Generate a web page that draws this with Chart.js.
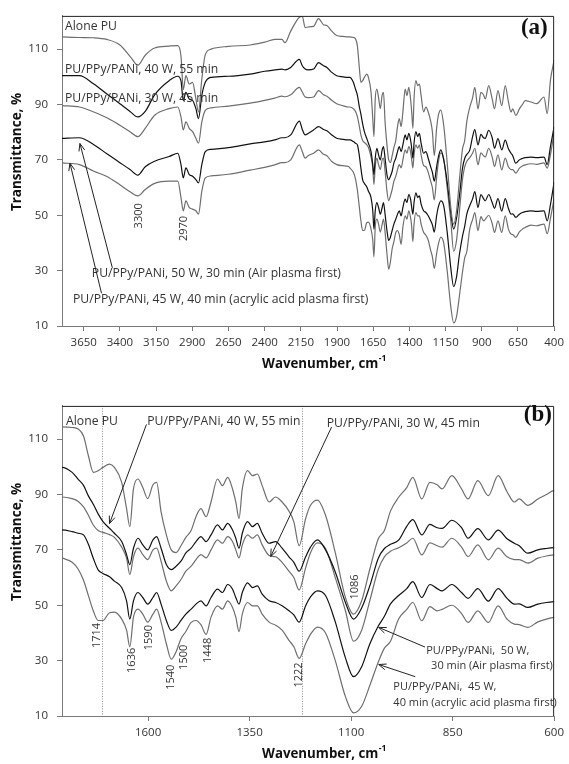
<!DOCTYPE html>
<html>
<head>
<meta charset="utf-8">
<script src="https://cdn.jsdelivr.net/npm/chart.js@4.4.1/dist/chart.umd.min.js"></script>
<style>
  html, body { margin: 0; padding: 0; background: #fff; overflow: hidden; }
  #wrap { position: relative; width: 569px; height: 764px; }
  canvas { position: absolute; left: 0; }
  #chartA { top: 0; }
  #chartB { top: 390px; }
</style>
</head>
<body>
<div id="wrap">
  <canvas id="chartA" width="569" height="382"></canvas>
  <canvas id="chartB" width="569" height="374"></canvas>
</div>
<script>
// wavenumber grid (cm-1), shared by all five spectra
const wavenumbers = [
  3800, 3680, 3580, 3490, 3400, 3330, 3276, 3225, 3160, 3060,
  3000, 2978, 2962, 2944, 2921, 2898, 2875, 2857, 2834, 2810,
  2770, 2650, 2500, 2400, 2330, 2280, 2260, 2220, 2160, 2140,
  2120, 2100, 2062, 2028, 1993, 1970, 1936, 1902, 1860, 1820,
  1812, 1787, 1772, 1759, 1747, 1735, 1723, 1711, 1695, 1683,
  1665, 1653, 1645, 1636, 1625, 1613, 1601, 1588, 1579, 1568,
  1555, 1543, 1531, 1519, 1507, 1494, 1482, 1470, 1457, 1445,
  1429, 1417, 1404, 1392, 1384, 1376, 1368, 1355, 1343, 1331,
  1319, 1302, 1286, 1270, 1253, 1241, 1228, 1212, 1200, 1183,
  1163, 1139, 1114, 1094, 1074, 1054, 1033, 1018, 1003, 983,
  963, 948, 926, 906, 888, 876, 852, 828, 812, 788,
  762, 738, 716, 698, 686, 665, 640, 619, 600,
  560, 520, 470, 448, 425, 400
];

const alonePU = [
  114.4, 114.2, 114.1, 113.5, 111.5, 107.4, 104.2, 107.8, 110.4, 111.1,
  111.3, 107.5, 95.4, 100.4, 97.4, 98, 92, 87.3, 99.2, 108,
  110, 111, 111.5, 112.5, 113.5, 113.5, 112.3, 116.5, 121.5, 121.8,
  117.8, 118, 118.2, 121, 118.8, 118.5, 116.5, 114.9, 114.6, 114.4,
  114.4, 114.2, 113.7, 111.1, 104, 98, 98.6, 99.8, 101, 99.8,
  94.4, 84.9, 78.4, 92, 95.6, 92.5, 88.5, 93.5, 94.4, 83.7,
  75.4, 70, 69, 71.5, 74.5, 77, 82, 84.9, 82, 87.3,
  95.6, 93.2, 96.2, 92, 87.3, 81.4, 92, 98.6, 96.8, 97.4,
  93.2, 87.3, 89.1, 87.3, 84, 80.1, 71.5, 81.3, 86.1, 88,
  82.5, 69, 52.8, 46.8, 51.6, 63, 74, 77, 84, 89,
  92.5, 96.2, 88.4, 94.4, 93.5, 92, 96.8, 92, 88.4, 95,
  89.6, 96.8, 91, 87.3, 88.4, 86.1, 88.4, 90, 91.4,
  90.9, 90.3, 92.7, 86.7, 99, 106
];

const pu40W55 = [
  100.4, 100.4, 97.4, 93.8, 90.3, 87.5, 85.5, 87.5, 93.5, 98.6,
  100.2, 98.5, 91.5, 94.4, 92, 91.5, 88.5, 84.9, 93.3, 98,
  99.8, 100.2, 101, 102, 102.5, 102.8, 102.5, 103.4, 106.3, 104,
  102.8, 102.5, 102.8, 105.1, 104, 103.4, 101.6, 100.4, 100, 99.8,
  99.8, 98, 95.5, 93.3, 89.5, 86.5, 83, 80.2, 77.8, 76,
  73, 68.3, 64.7, 70.6, 74.2, 71.8, 70, 73.6, 74.8, 70.6,
  64.7, 62.9, 64.1, 65.9, 68.9, 70.6, 73, 74.8, 73, 75.4,
  79, 77.2, 79.6, 77.2, 74.2, 70.6, 76, 80.2, 78.4, 79.6,
  76, 72.4, 73, 70.6, 67.5, 65.5, 62.3, 67.5, 71, 73.6,
  70, 62, 51, 45, 49, 57, 67, 70.5, 72, 73.5,
  78.5, 80.9, 75.4, 79.2, 78, 77.8, 80.7, 78, 74.2, 77.7,
  73.6, 77.1, 74, 72.4, 71.5, 68.8, 70, 70.5, 70.8,
  71, 70.8, 71, 68.3, 75, 82
];

const pu30W45 = [
  89.6, 89.1, 87.3, 85.2, 82.5, 80.2, 78.4, 81.4, 86.1, 88.5,
  89.1, 85.5, 80.8, 83.7, 81.4, 80.2, 77.8, 76, 83.7, 87.9,
  88.8, 89.4, 90.5, 91.5, 92.3, 93, 92.8, 93.5, 96.2, 94.5,
  92.7, 92.5, 92.7, 95, 93.5, 93, 91.5, 90.3, 89.6, 89.1,
  89.1, 88.5, 87.5, 85.5, 82.5, 79, 77, 76.3, 75.5, 74.5,
  71, 67, 61.1, 67.5, 70.6, 68.3, 66.5, 70, 70.6, 65.9,
  58.7, 55.2, 57, 59.3, 62.3, 64.1, 66.5, 68.3, 67.1, 70,
  73.6, 72.4, 74.8, 73, 70, 67.1, 71.8, 75.4, 74.2, 75.4,
  71.8, 68, 67.5, 65.5, 62.3, 60, 55.5, 63.5, 69, 72.5,
  70.5, 60, 48, 37, 41, 51.6, 63, 67.5, 69.5, 70.8,
  72.5, 74.2, 68.2, 72.5, 71.5, 71, 74.2, 71, 67.6, 71.8,
  66.4, 70.6, 67.5, 66.5, 66.5, 65.2, 67, 67.8, 68.2,
  68.6, 68.4, 68.9, 67, 72, 80
];

const pu50W30 = [
  77.8, 78, 75.5, 72.2, 69, 66.5, 64.5, 67.5, 69.5, 71.2,
  72.4, 68.3, 63.5, 67.1, 64.7, 64.1, 62.9, 61.7, 68.3, 73,
  73.8, 74.4, 75.8, 76.5, 77.2, 78, 78, 79, 84, 81,
  79, 79.5, 80.8, 82, 81, 80.5, 79, 77.8, 77.4, 77.2,
  77.2, 76.6, 76, 75.4, 72, 67, 62.8, 61.5, 60.3, 58.7,
  56.4, 51.6, 45, 51.6, 54.6, 52.8, 50.4, 52.8, 54.6, 50.4,
  44.5, 40.9, 42.1, 44.5, 46.8, 48.6, 50.4, 51.6, 49.8, 52.8,
  55.8, 54.6, 57.5, 55.8, 52.8, 50.4, 54.6, 58.1, 56.4, 57,
  54, 51.6, 51, 49.8, 48, 46.5, 43.9, 49.8, 53, 55.2,
  53.5, 44, 31, 24.2, 27.8, 36, 42.5, 46, 50.5, 53.5,
  56, 58.5, 52.8, 57.5, 56, 55.2, 57.5, 54.6, 52.5, 56,
  51.5, 56, 52.5, 50.4, 50.5, 49.2, 50.4, 51, 51.3,
  51.6, 51.4, 51.6, 48, 54, 62
];

const pu45W40 = [
  68.9, 68.3, 65.9, 64, 61, 58.5, 57, 59.3, 61.5, 62.3,
  62.3, 56.4, 51.6, 55.2, 52.8, 52.2, 51.6, 50.4, 58.7, 63.5,
  64.2, 64.8, 66.3, 67.3, 68.2, 69, 69, 70, 75.4, 73,
  70.6, 71.5, 72.4, 73.6, 72, 71.5, 69.4, 68.3, 67.9, 67.6,
  67.1, 65.5, 63, 59, 53.5, 48, 44.5, 44.5, 47.3, 47.5,
  45, 41, 35, 45.7, 48.6, 46.8, 43.9, 46.8, 48.6, 43.9,
  36.1, 30.5, 33.2, 37.9, 40.5, 43.8, 44.5, 43, 39.5, 45.7,
  49.8, 48.6, 51.6, 49.2, 45.7, 40.5, 46.8, 51, 49.8, 49.8,
  46.8, 43.9, 42.8, 41, 37.3, 35, 30.8, 36.1, 39.5, 42.1,
  40, 30, 17, 11.1, 13.5, 21, 29.5, 34.5, 37, 45,
  48.5, 51, 44.4, 49.5, 48, 48.5, 50, 47, 43.8, 48,
  43.8, 49.8, 45, 43.2, 43, 42, 44, 45, 45.6,
  46.4, 46.2, 46.8, 43.3, 49, 56
];

const yTicks = [10, 30, 50, 70, 90, 110];
const xTicksA = [3650, 3400, 3150, 2900, 2650, 2400, 2150, 1900, 1650, 1400, 1150, 900, 650, 400];
const xTicksB = [1600, 1350, 1100, 850, 600];
const peakLines = [1714, 1222];

const GREY = '#6e6e6e';
const BLACK = '#111111';
const TEXT = '#333333';
const FONT = "'Open Sans', sans-serif";

const seriesList = [
  { label: 'Alone PU', values: alonePU, color: GREY },
  { label: 'PU/PPy/PANi, 40 W, 55 min', values: pu40W55, color: BLACK },
  { label: 'PU/PPy/PANi, 30 W, 45 min', values: pu30W45, color: GREY },
  { label: 'PU/PPy/PANi, 50 W, 30 min (Air plasma first)', values: pu50W30, color: BLACK },
  { label: 'PU/PPy/PANi, 45 W, 40 min (acrylic acid plasma first)', values: pu45W40, color: GREY }
];

// annotation anchors in data units (wavenumber, transmittance)
const notesA = {
  texts: [
    { text: 'Alone PU', wn: 3779, t: 118.2 },
    { text: 'PU/PPy/PANi, 40 W, 55 min', wn: 3779, t: 102.6 },
    { text: 'PU/PPy/PANi, 30 W, 45 min', wn: 3779, t: 92.3 },
    { text: 'PU/PPy/PANi, 50 W, 30 min (Air plasma first)', wn: 3594, t: 29.1 },
    { text: 'PU/PPy/PANi, 45 W, 40 min (acrylic acid plasma first)', wn: 3724, t: 19.6 }
  ],
  arrows: [
    { from: [3452, 31], to: [3676, 75.9] },
    { from: [3527, 21.8], to: [3745, 68.8] }
  ],
  peaks: [
    { text: '3300', wn: 3270, t: 49.8 },
    { text: '2970', wn: 2955, t: 45.2 }
  ],
  tag: { text: '(a)', wn: 537, t: 117.6 },
  dotted: []
};

const notesB = {
  texts: [
    { text: 'Alone PU', wn: 1802, t: 116.5 },
    { text: 'PU/PPy/PANi, 40 W, 55 min', wn: 1602, t: 116.5 },
    { text: 'PU/PPy/PANi, 30 W, 45 min', wn: 1160, t: 115.8 },
    { text: 'PU/PPy/PANi,  50 W,', wn: 915, t: 33.7, size: 11 },
    { text: '30 min (Air plasma first)', wn: 903, t: 28, size: 11 },
    { text: 'PU/PPy/PANi,  45 W,', wn: 996, t: 20.5, size: 11 },
    { text: '40 min (acrylic acid plasma first)', wn: 996, t: 14.8, size: 11 }
  ],
  arrows: [
    { from: [1604, 115.3], to: [1695, 79.5] },
    { from: [1148, 114.4], to: [1298, 67.6] },
    { from: [918, 34.9], to: [1032, 42] },
    { from: [942, 24.2], to: [1032, 28.6] }
  ],
  peaks: [
    { text: '1714', wn: 1727, t: 39.1 },
    { text: '1636', wn: 1640, t: 30.1 },
    { text: '1590', wn: 1599, t: 38.3 },
    { text: '1540', wn: 1543, t: 24 },
    { text: '1500', wn: 1513, t: 31.2 },
    { text: '1448', wn: 1454, t: 33.7 },
    { text: '1222', wn: 1229, t: 24.8 },
    { text: '1086', wn: 1090, t: 56.6 }
  ],
  tag: { text: '(b)', wn: 640, t: 118.7 },
  dotted: peakLines
};

function drawArrow(ctx, x1, y1, x2, y2) {
  ctx.beginPath();
  ctx.moveTo(x1, y1);
  ctx.lineTo(x2, y2);
  ctx.stroke();
  const ang = Math.atan2(y2 - y1, x2 - x1);
  const len = 8, spread = 0.38;
  ctx.beginPath();
  ctx.moveTo(x2 - len * Math.cos(ang - spread), y2 - len * Math.sin(ang - spread));
  ctx.lineTo(x2, y2);
  ctx.lineTo(x2 - len * Math.cos(ang + spread), y2 - len * Math.sin(ang + spread));
  ctx.stroke();
}

const dottedPlugin = {
  id: 'dotted',
  beforeDatasetsDraw(chart, args, opts) {
    const { ctx, chartArea: a, scales: { x } } = chart;
    ctx.save();
    ctx.strokeStyle = '#8a8a8a';
    ctx.lineWidth = 1;
    ctx.setLineDash([1, 1.5]);
    opts.lines.forEach(wn => {
      const px = Math.round(x.getPixelForValue(wn)) + 0.5;
      ctx.beginPath();
      ctx.moveTo(px, a.top);
      ctx.lineTo(px, a.bottom);
      ctx.stroke();
    });
    ctx.restore();
  }
};

const notesPlugin = {
  id: 'notes',
  afterDraw(chart, args, opts) {
    const { ctx, chartArea: a, scales: { x, y } } = chart;
    const n = opts.notes;
    ctx.save();

    // frame on top and right
    ctx.strokeStyle = '#222';
    ctx.lineWidth = 1;
    ctx.beginPath();
    ctx.moveTo(a.left, a.top + 0.5);
    ctx.lineTo(a.right - 0.5, a.top + 0.5);
    ctx.lineTo(a.right - 0.5, a.bottom);
    ctx.stroke();

    ctx.fillStyle = TEXT;
    ctx.textAlign = 'left';
    ctx.textBaseline = 'middle';
    n.texts.forEach(t => {
      ctx.font = (t.size || 12.2) + 'px ' + FONT;
      ctx.fillText(t.text, x.getPixelForValue(t.wn), y.getPixelForValue(t.t));
    });

    ctx.strokeStyle = '#222';
    ctx.lineWidth = 1;
    n.arrows.forEach(ar => {
      drawArrow(ctx,
        x.getPixelForValue(ar.from[0]), y.getPixelForValue(ar.from[1]),
        x.getPixelForValue(ar.to[0]), y.getPixelForValue(ar.to[1]));
    });

    ctx.font = '11px ' + FONT;
    ctx.textAlign = 'center';
    n.peaks.forEach(p => {
      ctx.save();
      ctx.translate(x.getPixelForValue(p.wn), y.getPixelForValue(p.t));
      ctx.rotate(-Math.PI / 2);
      ctx.fillText(p.text, 0, 0);
      ctx.restore();
    });

    ctx.fillStyle = '#111';
    ctx.font = "bold 23px 'Liberation Serif', serif";
    ctx.fillText(n.tag.text, x.getPixelForValue(n.tag.wn), y.getPixelForValue(n.tag.t));

    // axis titles
    ctx.fillStyle = '#111';
    ctx.font = 'bold 13.5px ' + FONT;
    ctx.save();
    ctx.translate(17.5, 152);
    ctx.rotate(-Math.PI / 2);
    ctx.textAlign = 'center';
    ctx.fillText('Transmittance, %', 0, 0);
    ctx.restore();

    const main = 'Wavenumber, cm';
    const sup = '-1';
    ctx.font = 'bold 13.3px ' + FONT;
    const wMain = ctx.measureText(main).width;
    ctx.font = 'bold 8.5px ' + FONT;
    const wSup = ctx.measureText(sup).width;
    const x0 = 324 - (wMain + wSup) / 2;
    ctx.textAlign = 'left';
    ctx.font = 'bold 13.3px ' + FONT;
    ctx.fillText(main, x0, 364);
    ctx.font = 'bold 8.5px ' + FONT;
    ctx.fillText(sup, x0 + wMain + 0.5, 359);

    ctx.restore();
  }
};

function makeDatasets() {
  return seriesList.map(s => ({
    label: s.label,
    data: wavenumbers.map((w, i) => ({ x: w, y: s.values[i] })),
    borderColor: s.color,
    borderWidth: 1.2,
    pointRadius: 0,
    cubicInterpolationMode: 'monotone',
    fill: false
  }));
}

function makeChart(id, xMin, xMax, xTicks, notes, xAxisHeight) {
  return new Chart(document.getElementById(id), {
    type: 'line',
    data: { datasets: makeDatasets() },
    options: {
      responsive: false,
      animation: false,
      layout: { padding: { left: 0, top: 13, right: 11, bottom: 0 } },
      scales: {
        x: {
          type: 'linear',
          reverse: true,
          min: xMin,
          max: xMax,
          afterBuildTicks: axis => { axis.ticks = xTicks.map(v => ({ value: v })); },
          afterFit: axis => { axis.height = xAxisHeight; },
          grid: { drawOnChartArea: false, drawTicks: true, tickLength: 5, color: '#7a7a7a' },
          border: { display: true, color: '#7a7a7a', width: 1 },
          ticks: {
            autoSkip: false, maxRotation: 0, padding: 5, color: TEXT,
            font: { family: FONT, size: 11.5 },
            callback: v => String(v)
          }
        },
        y: {
          min: 10,
          max: 122,
          afterBuildTicks: axis => { axis.ticks = yTicks.map(v => ({ value: v })); },
          afterFit: axis => { axis.width = 62; },
          grid: { drawOnChartArea: false, drawTicks: true, tickLength: 5, color: '#7a7a7a' },
          border: { display: true, color: '#7a7a7a', width: 1 },
          ticks: {
            padding: 9, color: TEXT,
            font: { family: FONT, size: 11.5 },
            callback: v => String(v)
          }
        }
      },
      plugins: {
        legend: { display: false },
        tooltip: { enabled: false },
        dotted: { lines: notes.dotted },
        notes: { notes: notes }
      }
    },
    plugins: [dottedPlugin, notesPlugin]
  });
}

makeChart('chartA', 400, 3800, xTicksA, notesA, 56);
makeChart('chartB', 600, 1812, xTicksB, notesB, 48);
</script>
</body>
</html>
